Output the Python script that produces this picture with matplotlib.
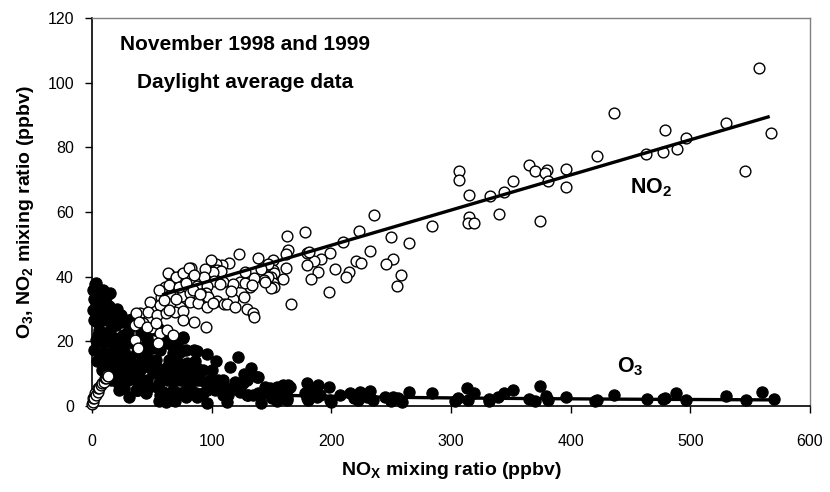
import matplotlib.pyplot as plt

plt.rcParams['font.family'] = ['Liberation Sans', 'DejaVu Sans']
plt.rcParams['mathtext.fontset'] = 'custom'
plt.rcParams['mathtext.rm'] = 'Liberation Sans'
plt.rcParams['mathtext.bf'] = 'Liberation Sans:bold'

# NO2 (open circles) - NOx ppbv, NO2 ppbv
no2_x = [557, 436, 422, 463, 477, 488.5, 479, 496, 530, 567, 546,
         365, 370, 380, 378.5, 381, 396, 396.5, 374,
         306.9, 306.3, 352, 314.7, 332.5, 344, 340, 314.7, 314, 319.4, 284, 265, 250, 235.6,
         223.3, 209.7, 232, 251.5, 245.6, 258, 254.5, 220.8, 224.7, 215, 212, 203, 199, 197.7,
         189, 183.2, 191, 185.7, 180, 181.5, 180, 178, 163, 163.5, 161.8, 162, 160, 166,
         151, 151.5, 152, 150, 151.5, 152, 150, 146.8, 147.3, 143.7,
         122.5, 138.4, 135.6, 123.6, 132,
         114.7, 108.6, 103.6, 99.7, 104.7, 108, 101.3, 94.7, 93.3, 101.7, 109.7,
         82.7, 74.9, 64.6, 75.4, 67.9, 61.2, 81.9, 87.5, 95.8,
         68.8, 79.1, 95.2, 107.2, 118, 127.9, 133.9, 144.4,
         57.4, 65.2, 74.9, 81.9, 91.1, 97.2, 104.2, 110.3, 118.1, 127, 129.2, 134.2, 135,
         48.5, 56.8, 65.2, 73.5, 81.9, 88.8, 95.8, 101.3, 112.5, 119.5,
         40.1, 47, 54, 61.8, 69.3, 75.8, 85.5, 95.2,
         35.9, 42.9, 49.9, 56.8, 62.4, 35.9, 38.7, 55.4,
         0.3, 0.6, 1.1, 1.9, 2.5, 3.3, 4.8, 5.3, 6.1, 7.5, 8.1, 10.3, 10.9, 11.7, 12.3, 13.1,
         36.8, 39.5, 46.4, 53.5, 64.6, 67.4, 75.8, 60.4, 63.2, 70.2, 75.8, 81.3, 85.5,
         56.2, 64.6, 72.9, 78.5, 84.1,
         128, 141, 116, 90, 70]
no2_y = [104.5, 90.7, 77.4, 78, 78.5, 79.6, 85.4, 82.8, 87.6, 84.3, 72.8,
         74.4, 72.8, 73, 72.2, 69.7, 73.2, 67.8, 57.2,
         72.8, 69.9, 69.6, 65.3, 65, 66.1, 59.3, 58.4, 56.5, 56.5, 55.7, 50.5, 52.4, 59.2,
         54.2, 50.8, 47.8, 45.5, 43.9, 40.6, 37.1, 45, 44.1, 41.4, 40, 42.3, 47.3, 35.3,
         41.4, 39.3, 45.5, 44.8, 47.4, 47.7, 43.6, 53.8, 52.5, 48.2, 47, 42.6, 39.3, 31.6,
         45.2, 42, 41.2, 40, 38, 36.9, 36.4, 43.9, 40, 39,
         47.1, 45.9, 39.5, 38.3, 36.9,
         44.1, 43.6, 43.8, 45.2, 42, 41.8, 41.4, 42.4, 40, 38.6, 38.4,
         42.8, 40.8, 40.7, 39.3, 38, 36.9, 38, 37.1, 37.1,
         37.4, 36.7, 35.1, 37.7, 37.7, 37.9, 37.3, 38.4,
         33.8, 34.3, 34, 34.9, 34.6, 33.6, 32.6, 31.5, 33, 33.6, 29.9, 28.8, 27.6,
         32.3, 31.2, 31.5, 30.7, 32.3, 31.8, 30.7, 32, 31.5, 30.7,
         28.7, 29.2, 28.1, 28.7, 29.2, 29.5, 26.1, 24.5,
         25.1, 25.6, 24, 22.5, 23.5, 20.4, 17.8, 19.6,
         0.6, 1.3, 2.4, 2.4, 3.9, 3.4, 4.4, 5.5, 5.5, 6.5, 7, 7.5, 8.6, 8.6, 9.6, 9.3,
         28.7, 26.1, 24.5, 25.6, 29.7, 22, 26.6, 32.8, 41, 40, 41, 42.6, 40.5,
         35.9, 37.4, 36.9, 38, 35.9,
         41.5, 42.5, 35.5, 34.5, 33]

# O3 (filled circles)
o3_x = [365.3, 370, 374.3, 379.8, 381.2, 396, 421.9, 436.1, 463.4, 476.8, 478.7, 488.4, 496.8,
        529.9, 546.4, 560, 569.8,
        150.1, 150.1, 159.8, 164, 159.8, 162.7, 179.4, 189, 178, 183.5, 180.7, 190.5, 198.3, 198.8,
        207.2, 215.5, 223.9, 232.2, 235, 229.5, 222.5, 244.8, 251.7, 255.9, 265.1, 284.3,
        306, 313, 314.4, 319.1, 331.9, 339.4, 344.4, 352,
        88, 122.2, 132.6, 139, 129.2, 126.4, 119.5, 118, 123.6, 130.6,
        92.5, 84.6, 87.4, 81.9, 94.4, 98.6, 105.5, 108.3, 102.7, 93, 87.4, 95.8, 109.7, 113.9, 112.5,
        134.8, 138.9, 148.7, 152.9, 162.7, 165.4, 185, 162.7, 179.4, 187.8,
        12.3, 33.2, 52.6, 55.4, 47, 76.3, 70.7, 67.9, 73.5, 62.4, 56.8, 51.2, 45.6, 42.9, 37.3, 31.7,
        31.7, 40.1, 45.7, 54, 62.4, 73.5, 79.1, 87.5,
        15, 20.6, 26.1, 37.3, 45.7, 54, 62.4, 67.9, 73.5, 79.1, 84.6, 90.2, 95.8, 104.2, 109.7,
        115.3, 123.6, 129.2, 132, 137.6, 144.5, 148.7, 154.3,
        38.7, 56.8, 73.5, 109.7, 129.2, 145.9, 151.5,
        3.3, 2.5, 0.6, 7.5, 11.7, 3.3, 0.6, 6.1, 1.9, 8.9, 6.1, 11.7, 3.3, 8.9, 14.5, 17.3, 10.3,
        20.1, 22.8, 28.4, 31.2, 25.6, 33.9, 36.8, 31.2, 33.9, 25.6, 40.9, 45.1, 33.9, 39.5, 46.4,
        53.5, 64.6, 72.9, 78.5, 75.8, 67.4, 56.2, 50.7, 61.8, 75.8, 78.5, 85.5,
        36.8, 45.1, 59.1, 67.4, 78.5, 86.9,
        1.9, 7.5, 13.1, 15.9, 21.5, 27, 31.2, 22.8,
        14, 17, 20, 13, 16, 19, 22, 24, 10, 21, 27, 12, 5, 4, 9, 6, 2, 4, 8, 11, 18, 24, 28, 30,
        35, 42, 48, 50, 58, 66, 70, 82, 86, 100, 104, 96, 115, 127, 67, 60, 42, 48, 30, 20, 26, 15,
        56, 62, 69, 141, 155, 200, 219, 250, 259, 303, 332, 420]
o3_y = [2.1, 1.6, 6.2, 3.1, 1.9, 2.9, 1.9, 3.4, 2.1, 2.1, 2.5, 4.1, 1.9,
        3.1, 1.9, 4.4, 2.1,
        4.4, 2.4, 6.5, 6.5, 4.4, 1.9, 7, 6.5, 3.9, 4.4, 1.9, 3.4, 6, 1.9,
        3.4, 3.9, 4.4, 4.7, 1.9, 2.7, 1.9, 2.9, 2.9, 2.4, 4.4, 4.1,
        2.4, 5.5, 1.9, 3.9, 2.1, 2.7, 4.1, 4.9,
        17, 15.3, 11.7, 9.1, 8.6, 7, 7.5, 6, 4.4, 3.4,
        11.1, 10.6, 8, 6, 7.5, 8, 8, 7, 4.9, 3.9, 2.9, 0.8, 3.9, 3.4, 1.3,
        3.4, 3.9, 5.5, 4.9, 4.9, 6, 4.9, 2.4, 2.4, 2.9,
        34.3, 26.8, 23.5, 24, 23, 21.2, 18.9, 16.3, 16.8, 19.4, 17.3, 17.8, 20.9, 18.3, 16.8, 15.3,
        12.7, 11.1, 13.2, 11.7, 12.2, 11.1, 13.2, 11.7,
        14.2, 12.2, 9.1, 4.9, 8, 6, 8, 4.9, 8, 6, 3.9, 8, 4.9, 7, 8,
        4.9, 6, 8, 10.1, 9.1, 6, 4.9, 6,
        4.9, 3.4, 3.9, 3.4, 3.4, 3.9, 2.9,
        37.9, 37.7, 35.9, 34.3, 33.8, 31.8, 29.7, 29.2, 26.6, 26.6, 23.5, 22.5, 20.4, 19.4, 20.4, 17.3, 16.3,
        15.2, 13.2, 14.2, 12.2, 10.6, 10.1, 8.6, 26.6, 25.1, 22, 23, 21.4, 19.4, 17.3, 15.2,
        14.2, 14.2, 13.2, 11.1, 8.6, 7.5, 7, 10.1, 10.1, 20.9, 17.3, 17.3,
        4.9, 3.9, 4.4, 2.9, 2.9, 3.9,
        17.3, 14.2, 11.1, 8, 7, 5.5, 2.9, 4.9,
        31, 28, 25, 27, 24, 21, 19, 28, 30, 30, 17, 20, 22, 26, 36, 32, 33, 14, 11, 13, 10, 16, 20, 23,
        13, 14, 12, 19, 9, 10, 13, 9, 14, 11, 14, 16, 12, 10, 19, 22, 8, 6, 8, 18, 26, 35,
        1.5, 1.2, 1.5, 1.0, 1.5, 1.3, 2.4, 1.5, 1.3, 1.5, 1.5, 1.5]

# fitted trend lines
no2_fit_x = [60, 565]
no2_fit_y = [34.5, 89.4]
o3_fit_x = [20, 40, 60, 80, 100, 130, 160, 200, 250, 300, 365, 450, 565]
o3_fit_y = [8.2, 6.3, 5.2, 4.6, 4.1, 3.7, 3.3, 3.0, 2.7, 2.5, 2.3, 2.1, 1.9]

fig = plt.figure(figsize=(8.3, 4.92), dpi=100)
ax = fig.add_axes([0.1108, 0.1748, 0.8651, 0.7886])

ax.scatter(o3_x, o3_y, s=66, c='black', edgecolors='black', linewidths=0.8, zorder=2, clip_on=False)
ax.scatter(no2_x, no2_y, s=60, c='white', edgecolors='black', linewidths=1.0, zorder=3, clip_on=False)
ax.plot(no2_fit_x, no2_fit_y, color='black', lw=2.4, zorder=4)
ax.plot(o3_fit_x, o3_fit_y, color='black', lw=2.4, zorder=4)

ax.set_xlim(0, 600)
ax.set_ylim(0, 120)
ax.set_xticks(range(0, 601, 100))
ax.set_yticks(range(0, 121, 20))

for s in ['top', 'right']:
    ax.spines[s].set_color('#808080')
    ax.spines[s].set_linewidth(1.0)
for s in ['left', 'bottom']:
    ax.spines[s].set_color('black')
    ax.spines[s].set_linewidth(1.2)

ax.tick_params(axis='y', direction='out', length=5, width=1, pad=8, labelsize=11.5)
ax.tick_params(axis='x', direction='out', length=5, width=1, pad=15, labelsize=11.5)

ax.text(128, 111.7, 'November 1998 and 1999', ha='center', va='center',
        fontsize=15, fontweight='bold')
ax.text(128, 100.2, 'Daylight average data', ha='center', va='center',
        fontsize=15, fontweight='bold')
ax.text(467, 67.5, r'NO$\mathbf{_2}$', ha='center', va='center', fontsize=15.5, fontweight='bold')
ax.text(450, 12, r'O$\mathbf{_3}$', ha='center', va='center', fontsize=15.5, fontweight='bold')

ax.set_xlabel(r'NO$\mathbf{_X}$ mixing ratio (ppbv)', fontsize=14, fontweight='bold', labelpad=8)
ax.set_ylabel(r'O$\mathbf{_3}$, NO$\mathbf{_2}$ mixing ratio (ppbv)', fontsize=14,
              fontweight='bold', labelpad=8)

fig.savefig('out.png', dpi=100)
